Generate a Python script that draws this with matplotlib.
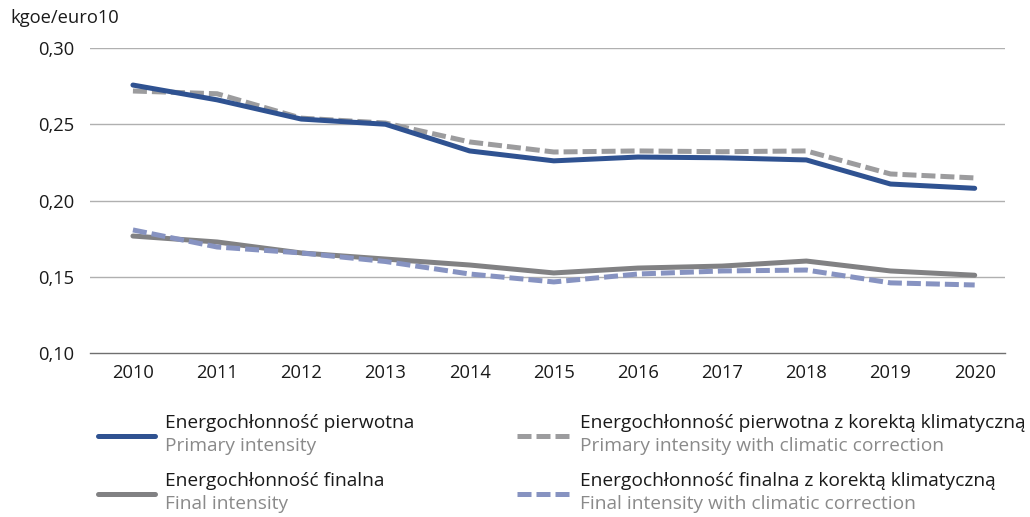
import matplotlib
matplotlib.use("Agg")
import matplotlib.pyplot as plt
from matplotlib.lines import Line2D

plt.rcParams['font.family'] = ['Open Sans', 'DejaVu Sans']

years = [2010, 2011, 2012, 2013, 2014, 2015, 2016, 2017, 2018, 2019, 2020]
primary = [0.2757, 0.2660, 0.2534, 0.2500, 0.2325, 0.2260, 0.2285, 0.2280, 0.2266, 0.2108, 0.2080]
primary_corr = [0.2718, 0.2700, 0.2540, 0.2508, 0.2384, 0.2318, 0.2325, 0.2320, 0.2325, 0.2174, 0.2148]
final = [0.1767, 0.1728, 0.1656, 0.1616, 0.1577, 0.1525, 0.1557, 0.1570, 0.1603, 0.1538, 0.1510]
final_corr = [0.1807, 0.1695, 0.1656, 0.1600, 0.1518, 0.1466, 0.1518, 0.1538, 0.1544, 0.1460, 0.1446]
yticks = [0.10, 0.15, 0.20, 0.25, 0.30]
ytick_labels = ['0,10', '0,15', '0,20', '0,25', '0,30']
unit_label = 'kgoe/euro10'
legend_pl = ['Energochłonność pierwotna', 'Energochłonność pierwotna z korektą klimatyczną',
             'Energochłonność finalna', 'Energochłonność finalna z korektą klimatyczną']
legend_en = ['Primary intensity', 'Primary intensity with climatic correction',
             'Final intensity', 'Final intensity with climatic correction']

C_BLUE = '#2f5291'
C_GRAYD = '#9c9c9e'
C_GRAY = '#818183'
C_LBLUE = '#8793c1'

W, H = 1030, 517
fig = plt.figure(figsize=(W / 100, H / 100), dpi=100)
ax = fig.add_axes([90 / W, 1 - 353 / H, 915 / W, 305 / H])

lw = 3.6
ax.plot(years, primary_corr, color=C_GRAYD, lw=lw, dashes=(2.8, 1.0), zorder=3)
ax.plot(years, primary, color=C_BLUE, lw=lw, solid_capstyle='round', solid_joinstyle='round', zorder=4)
ax.plot(years, final, color=C_GRAY, lw=lw, solid_capstyle='round', solid_joinstyle='round', zorder=3)
ax.plot(years, final_corr, color=C_LBLUE, lw=lw, dashes=(2.8, 1.0), zorder=4)

ax.set_ylim(0.10, 0.30)
ax.set_xlim(2009.49, 2020.36)
ax.set_yticks(yticks)
ax.set_yticklabels(ytick_labels)
ax.set_xticks(years)
ax.set_xticklabels([str(y) for y in years])
for v in yticks[1:]:
    ax.axhline(v, color='#b0b0b0', lw=1.0, zorder=1)
for s in ['top', 'right', 'left']:
    ax.spines[s].set_visible(False)
ax.spines['bottom'].set_color('#6f6f6f')
ax.spines['bottom'].set_linewidth(1.0)
ax.tick_params(axis='both', length=0, labelsize=13.2, colors='#1a1a1a')
ax.tick_params(axis='y', pad=11)
ax.tick_params(axis='x', pad=8)

fig.text(10 / W, 1 - 18 / H, unit_label, fontsize=13.2, color='#1a1a1a', va='center', ha='left')

# Custom legend
handles = [
    (98, 155, 436, C_BLUE, None, 165),
    (517, 570, 436, C_GRAYD, (2.8, 1.0), 580),
    (98, 155, 494, C_GRAY, None, 165),
    (517, 570, 494, C_LBLUE, (2.8, 1.0), 580),
]
for i, (x0, x1, yy, col, dash, tx) in enumerate(handles):
    ln = Line2D([x0 / W, x1 / W], [1 - yy / H, 1 - yy / H], transform=fig.transFigure,
                color=col, lw=lw, solid_capstyle='round')
    if dash:
        ln.set_dashes(dash)
    fig.add_artist(ln)
    fig.text(tx / W, 1 - (yy - 13) / H, legend_pl[i], fontsize=13.8, color='#1a1a1a',
             va='center', ha='left')
    fig.text(tx / W, 1 - (yy + 10) / H, legend_en[i], fontsize=13.8, color='#8a8a8a',
             va='center', ha='left')

fig.savefig('out.png', dpi=100)
